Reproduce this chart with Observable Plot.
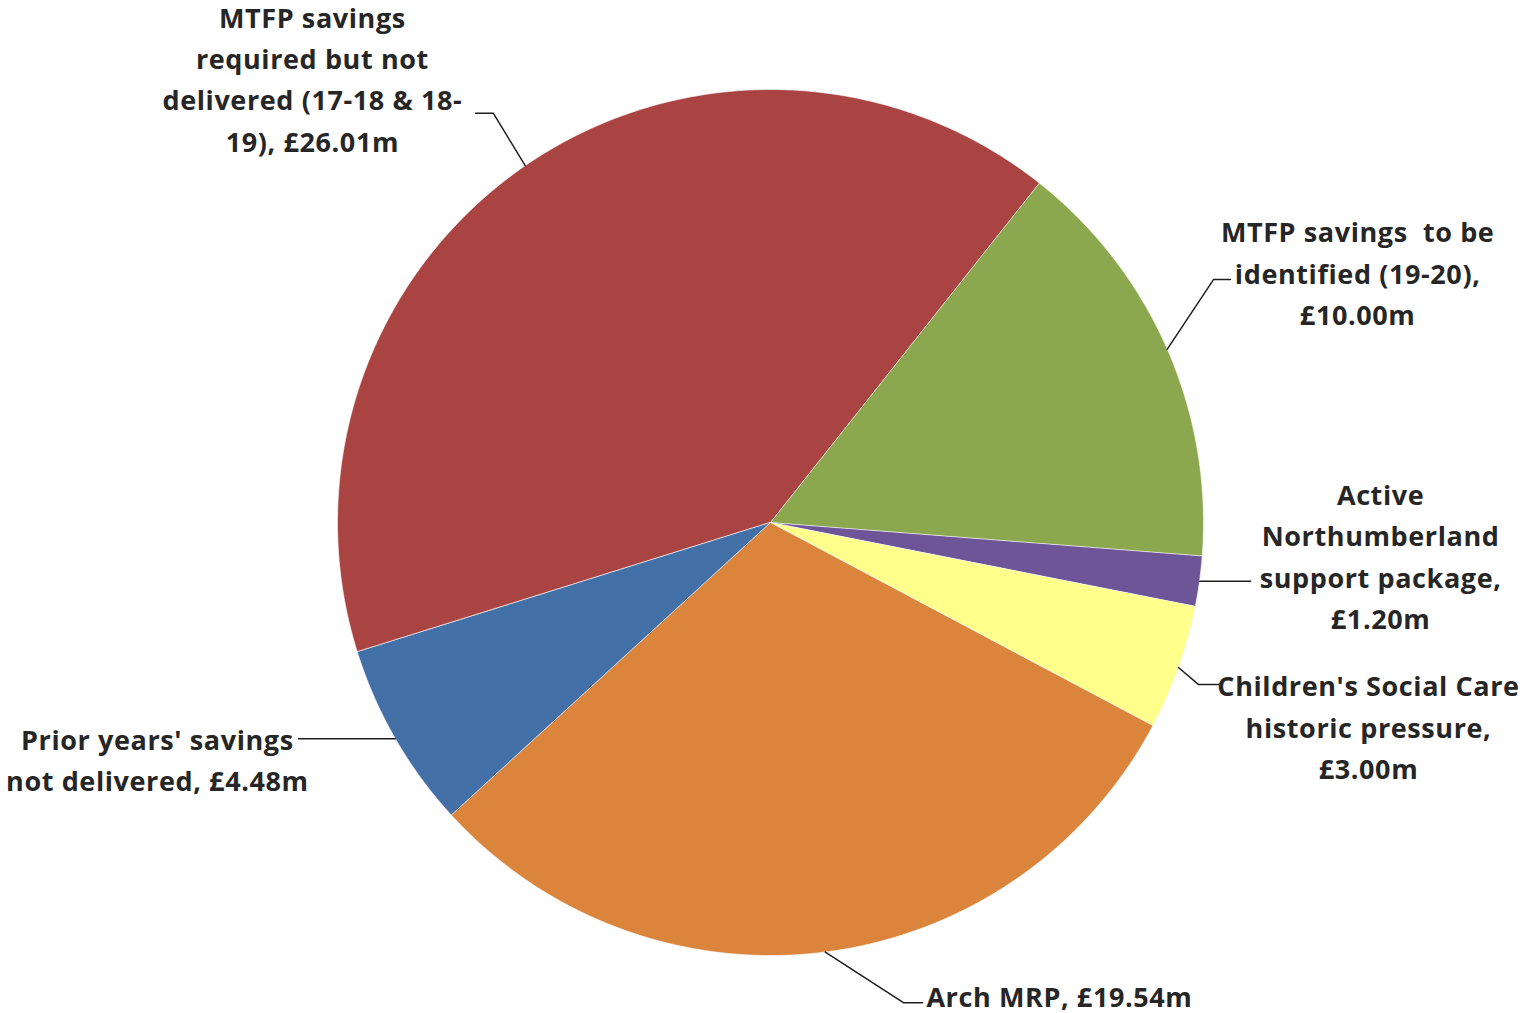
<!DOCTYPE html>
<html><head><meta charset="utf-8">
<script src="https://cdn.jsdelivr.net/npm/d3@7"></script>
<script src="https://cdn.jsdelivr.net/npm/@observablehq/plot@0.6"></script>
<style>body{margin:0;background:#fff}</style>
</head><body><div id="chart"></div>
<script>
// ---- data ----
const categories = [
  "MTFP savings required but not delivered (17-18 & 18-19)",
  "MTFP savings to be identified (19-20)",
  "Active Northumberland support package",
  "Children's Social Care historic pressure",
  "Arch MRP",
  "Prior years' savings not delivered"
];
const values = [26.01, 10.00, 1.20, 3.00, 19.54, 4.48];
const valueLabels = ["£26.01m", "£10.00m", "£1.20m", "£3.00m", "£19.54m", "£4.48m"];
const labelLines = [
  ["MTFP savings", "required but not", "delivered (17-18 & 18-", "19), £26.01m"],
  ["MTFP savings  to be", "identified (19-20),", "£10.00m"],
  ["Active", "Northumberland", "support package,", "£1.20m"],
  ["Children's Social Care", "historic pressure,", "£3.00m"],
  ["Arch MRP, £19.54m"],
  ["Prior years' savings", "not delivered, £4.48m"]
];
const colors = ["#A94442", "#8BA84E", "#6E5597", "#FFFF8C", "#DA843C", "#4470A8"];

// ---- layout (in pie-radius units, relative to the centre) ----
const startDeg = 252.6;
const labelLayout = [
  {tx: -1.058, ty: 1.030, anchor: "middle", elbow: [-0.640, 0.945], end: [-0.681, 0.945]},
  {tx: 1.356, ty: 0.582, anchor: "middle", elbow: [1.023, 0.561], end: [1.062, 0.561]},
  {tx: 1.409, ty: -0.072, anchor: "middle", elbow: null, end: [1.109, null]},
  {tx: 1.381, ty: -0.466, anchor: "middle", elbow: [0.988, -0.374], end: [1.035, -0.374]},
  {tx: 0.360, ty: -1.088, anchor: "start", elbow: [0.307, -1.109], end: [0.351, -1.109]},
  {tx: -1.416, ty: -0.542, anchor: "middle", elbow: null, end: [-1.090, null]}
];

const W = 1524, H = 1013, R = 433, CX = 770, CY = 522;

const arcs = d3.pie().sort(null).value(d => d).startAngle(startDeg * Math.PI / 180)
  .endAngle(startDeg * Math.PI / 180 + 2 * Math.PI)(values);

const wedges = arcs.map((a, i) => {
  const pts = [{x: 0, y: 0}];
  const n = Math.max(2, Math.ceil((a.endAngle - a.startAngle) / (Math.PI / 360)));
  for (let k = 0; k <= n; k++) {
    const t = a.startAngle + (a.endAngle - a.startAngle) * k / n;
    pts.push({x: Math.sin(t), y: Math.cos(t)});
  }
  return {pts, color: colors[i]};
});

const leaders = arcs.map((a, i) => {
  const m = (a.startAngle + a.endAngle) / 2;
  const p0 = {x: Math.sin(m), y: Math.cos(m)};
  const L = labelLayout[i];
  const pts = [p0];
  if (L.elbow) pts.push({x: L.elbow[0], y: L.elbow[1]});
  pts.push({x: L.end[0], y: L.end[1] == null ? p0.y : L.end[1]});
  return pts;
});

const labels = labelLines.map((lines, i) => ({
  text: lines.join("\n"), x: labelLayout[i].tx, y: labelLayout[i].ty, anchor: labelLayout[i].anchor
}));

const textOpts = {fontFamily: "Open Sans", fontSize: 27, fontWeight: "bold", fill: "#262626", lineHeight: 1.53};

const chart = Plot.plot({
  width: W, height: H, margin: 0,
  x: {domain: [-CX / R, (W - CX) / R], axis: null},
  y: {domain: [-(H - CY) / R, CY / R], axis: null},
  style: {background: "#fff", overflow: "visible", letterSpacing: "0.6px"},
  marks: [
    ...wedges.map(w => Plot.line(w.pts, {x: "x", y: "y", fill: w.color, stroke: "#fff", strokeWidth: 1, strokeOpacity: 0.6, curve: "linear-closed"})),
    ...leaders.map(p => Plot.line(p, {x: "x", y: "y", stroke: "#1e1e1e", strokeWidth: 1.5})),
    Plot.text(labels.filter(d => d.anchor === "middle"), {x: "x", y: "y", text: "text", textAnchor: "middle", ...textOpts}),
    Plot.text(labels.filter(d => d.anchor === "start"), {x: "x", y: "y", text: "text", textAnchor: "start", ...textOpts})
  ]
});
document.getElementById("chart").appendChild(chart);
</script>
</body></html>
